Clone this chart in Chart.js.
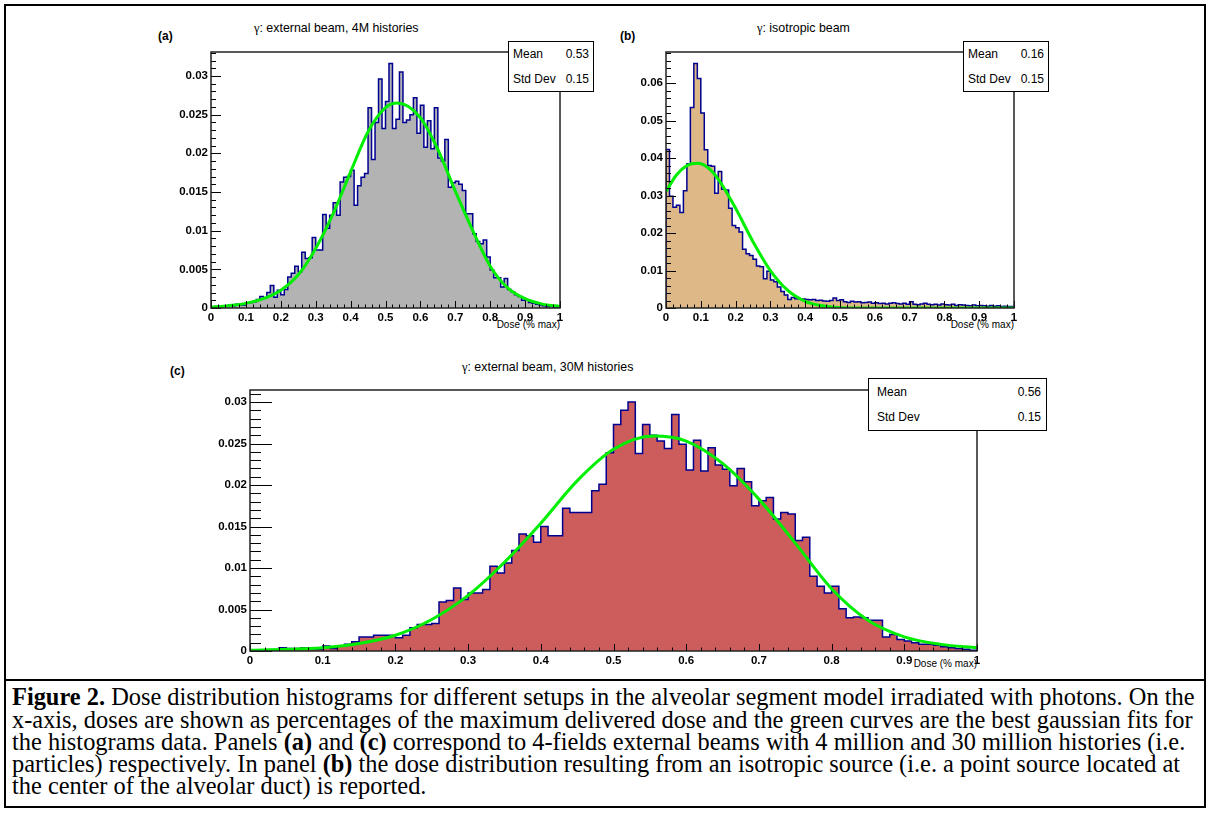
<!DOCTYPE html>
<html>
<head>
<meta charset="utf-8">
<script src="https://cdn.jsdelivr.net/npm/chart.js@4.4.1/dist/chart.umd.min.js"></script>
<style>
  body { margin: 0; background: #fff; width: 1210px; height: 822px; position: relative; overflow: hidden;
         font-family: "Liberation Sans", Arial, Helvetica, sans-serif; color: #000; }
  .abs { position: absolute; white-space: nowrap; }
  canvas { position: absolute; }
  .panel-tag { font-weight: bold; font-size: 12px; }
  .title { font-size: 12.4px; }
  .title .g { font-family: "Liberation Serif", "Times New Roman", serif; }
  .xlabel { font-size: 10px; transform: translateX(-100%); }
  .stats { position: absolute; border: 1px solid #000; background: #fff; box-sizing: border-box; font-size: 12px;
           padding: 0 4px 0 4px; display: flex; flex-direction: column; justify-content: space-around; z-index: 2; }
  .stats div { display: flex; justify-content: space-between; }
  .frame { position: absolute; left: 4px; top: 4px; width: 1198px; height: 800px; border: 2px solid #000; }
  .divider { position: absolute; left: 4px; width: 1202px; top: 679px; height: 2px; background: #000; }
  .caption { position: absolute; left: 12px; font-family: "Liberation Serif", "Times New Roman", serif;
             font-size: 24.4px; line-height: 22px; white-space: nowrap; }
</style>
</head>
<body>
<div class="frame"></div>
<div class="divider"></div>

<div class="abs panel-tag" style="left:158px;top:29px">(a)</div>
<div class="abs title" style="left:254px;top:21px"><span class="g">γ</span>: external beam, 4M histories</div>
<div class="stats" style="left:508px;top:41px;width:86px;height:51px">
  <div><span>Mean</span><span>0.53</span></div>
  <div><span>Std Dev</span><span>0.15</span></div>
</div>
<div class="abs xlabel" style="left:560px;top:319px">Dose (% max)</div>

<div class="abs panel-tag" style="left:620px;top:29px">(b)</div>
<div class="abs title" style="left:757px;top:21px"><span class="g">γ</span>: isotropic beam</div>
<div class="stats" style="left:963px;top:41px;width:86px;height:51px">
  <div><span>Mean</span><span>0.16</span></div>
  <div><span>Std Dev</span><span>0.15</span></div>
</div>
<div class="abs xlabel" style="left:1014px;top:319px">Dose (% max)</div>

<div class="abs panel-tag" style="left:170px;top:364px">(c)</div>
<div class="abs title" style="left:462px;top:360px"><span class="g">γ</span>: external beam, 30M histories</div>
<div class="stats" style="left:868px;top:378px;width:179px;height:53px;padding:0 5px 0 8px">
  <div><span>Mean</span><span>0.56</span></div>
  <div><span>Std Dev</span><span>0.15</span></div>
</div>
<div class="abs xlabel" style="left:977px;top:658px">Dose (% max)</div>

<div class="caption" style="top:686px"><b>Figure 2.</b> Dose distribution histograms for different setups in the alveolar segment model irradiated with photons. On the</div>
<div class="caption" style="top:708.5px">x-axis, doses are shown as percentages of the maximum delivered dose and the green curves are the best gaussian fits for</div>
<div class="caption" style="top:731px">the histograms data. Panels <b>(a)</b> and <b>(c)</b> correspond to 4-fields external beams with 4 million and 30 million histories (i.e.</div>
<div class="caption" style="top:753px">particles) respectively. In panel <b>(b)</b> the dose distribution resulting from an isotropic source (i.e. a point source located at</div>
<div class="caption" style="top:775px">the center of the alveolar duct) is reported.</div>

<script>
// bin width of all three dose histograms (100 bins over 0..1)
const BIN_WIDTH = 0.01;

// x axis labels, shared by the three panels
const doseTicks = [0, 0.1, 0.2, 0.3, 0.4, 0.5, 0.6, 0.7, 0.8, 0.9, 1];

// (a) external beam, 4M histories
const binsA = [
  0.0001, 0.0002, 0.0002, 0.0003, 0.0003, 0.0004, 0.0003, 0.0005, 0.0004, 0.0004,
  0.0006, 0.0007, 0.0008, 0.0011, 0.0015, 0.0013, 0.0020, 0.0029, 0.0014, 0.0023,
  0.0017, 0.0024, 0.0040, 0.0045, 0.0054, 0.0047, 0.0072, 0.0064, 0.0065, 0.0091,
  0.0075, 0.0075, 0.0121, 0.0103, 0.0120, 0.0136, 0.0120, 0.0163, 0.0169, 0.0170,
  0.0178, 0.0133, 0.0158, 0.0169, 0.0174, 0.0259, 0.0192, 0.0240, 0.0296, 0.0232,
  0.0267, 0.0316, 0.0232, 0.0244, 0.0305, 0.0240, 0.0243, 0.0250, 0.0272, 0.0226,
  0.0262, 0.0208, 0.0242, 0.0206, 0.0259, 0.0194, 0.0190, 0.0218, 0.0156, 0.0162,
  0.0164, 0.0160, 0.0152, 0.0122, 0.0122, 0.0096, 0.0086, 0.0083, 0.0088, 0.0066,
  0.0049, 0.0039, 0.0039, 0.0027, 0.0038, 0.0024, 0.0021, 0.0017, 0.0015, 0.0010,
  0.0010, 0.0007, 0.0006, 0.0005, 0.0004, 0.0003, 0.0002, 0.0002, 0.0001, 0.0001
];
const fitXA = [0, 0.05, 0.1, 0.15, 0.2, 0.25, 0.3, 0.35, 0.4, 0.45, 0.5, 0.535, 0.6, 0.65, 0.7, 0.75, 0.8, 0.85, 0.9, 0.95, 1];
const fitYA = [0.0001, 0.0003, 0.0006, 0.0012, 0.0023, 0.0043, 0.0077, 0.0122, 0.0176, 0.0228, 0.0259, 0.0265,
               0.0246, 0.0205, 0.0151, 0.0100, 0.0054, 0.0026, 0.0012, 0.0005, 0.0002];
const yTicksA = [0, 0.005, 0.01, 0.015, 0.02, 0.025, 0.03];

// (b) isotropic beam
const binsB = [
  0.0423, 0.0298, 0.0269, 0.0274, 0.0255, 0.0313, 0.0385, 0.0535, 0.0652, 0.0612,
  0.0520, 0.0422, 0.0380, 0.0378, 0.0306, 0.0364, 0.0317, 0.0315, 0.0266, 0.0220,
  0.0214, 0.0203, 0.0157, 0.0145, 0.0140, 0.0130, 0.0112, 0.0110, 0.0078, 0.0098,
  0.0075, 0.0070, 0.0056, 0.0044, 0.0035, 0.0023, 0.0028, 0.0025, 0.0024, 0.0024,
  0.0023, 0.0022, 0.0023, 0.0020, 0.0021, 0.0019, 0.0018, 0.0020, 0.0027, 0.0020,
  0.0022, 0.0017, 0.0015, 0.0018, 0.0016, 0.0017, 0.0014, 0.0015, 0.0016, 0.0013,
  0.0014, 0.0012, 0.0013, 0.0011, 0.0013, 0.0014, 0.0012, 0.0011, 0.0013, 0.0010,
  0.0017, 0.0010, 0.0009, 0.0011, 0.0013, 0.0010, 0.0009, 0.0010, 0.0008, 0.0011,
  0.0009, 0.0008, 0.0010, 0.0007, 0.0009, 0.0008, 0.0007, 0.0006, 0.0008, 0.0006,
  0.0007, 0.0006, 0.0005, 0.0007, 0.0005, 0.0006, 0.0004, 0.0005, 0.0004, 0.0004
];
const fitXB = [0, 0.03, 0.06, 0.09, 0.12, 0.15, 0.2, 0.25, 0.3, 0.35, 0.4, 0.45, 0.5, 0.6, 0.8, 1];
const fitYB = [0.0311, 0.0355, 0.0380, 0.0386, 0.0375, 0.0344, 0.0266, 0.0177, 0.0100, 0.0047, 0.0018, 0.0006,
               0.0001, 0, 0, 0];
const yTicksB = [0, 0.01, 0.02, 0.03, 0.04, 0.05, 0.06];

// (c) external beam, 30M histories
const binsC = [
  0, 0, 0, 0, 0.0004, 0.0003, 0.0003, 0.0004, 0.0002, 0.0002,
  0.0006, 0.0003, 0.0006, 0.0008, 0.0011, 0.0017, 0.0017, 0.0019, 0.0019, 0.0019,
  0.0016, 0.0019, 0.0028, 0.0032, 0.0032, 0.0033, 0.0059, 0.0061, 0.0076, 0.0062,
  0.0070, 0.0070, 0.0074, 0.0102, 0.0094, 0.0106, 0.0121, 0.0141, 0.0139, 0.0131,
  0.0150, 0.0139, 0.0139, 0.0172, 0.0167, 0.0167, 0.0167, 0.0193, 0.0201, 0.0239,
  0.0273, 0.0290, 0.0300, 0.0238, 0.0273, 0.0260, 0.0253, 0.0244, 0.0285, 0.0249,
  0.0218, 0.0254, 0.0217, 0.0245, 0.0224, 0.0219, 0.0199, 0.0220, 0.0204, 0.0175,
  0.0181, 0.0185, 0.0159, 0.0167, 0.0165, 0.0133, 0.0137, 0.0090, 0.0078, 0.0070,
  0.0078, 0.0051, 0.0040, 0.0041, 0.0040, 0.0037, 0.0037, 0.0017, 0.0020, 0.0014,
  0.0012, 0.0010, 0.0008, 0.0008, 0.0007, 0.0005, 0.0004, 0.0003, 0.0002, 0.0001
];
const fitXC = [0, 0.05, 0.1, 0.15, 0.2, 0.25, 0.3, 0.35, 0.4, 0.45, 0.5, 0.555, 0.6, 0.65, 0.7, 0.75, 0.8, 0.85, 0.9, 0.95, 1];
const fitYC = [0.0001, 0.0002, 0.0004, 0.0009, 0.0019, 0.0038, 0.0067, 0.0107, 0.0154, 0.0205, 0.0243, 0.0259,
               0.0253, 0.0226, 0.0183, 0.0130, 0.0075, 0.0037, 0.0017, 0.0008, 0.0004];
const yTicksC = [0, 0.005, 0.01, 0.015, 0.02, 0.025, 0.03];

// ROOT-like frame: ticks drawn inward from the left and bottom axes
const rootFrame = {
  id: 'rootFrame',
  afterDatasetsDraw(chart, args, o) {
    const { ctx, chartArea: a, scales: { x, y } } = chart;
    ctx.save();
    ctx.strokeStyle = '#000';
    ctx.lineWidth = 1;
    ctx.beginPath();
    const ny = Math.floor(y.max / o.yMinor + 1e-6);
    for (let k = 0; k <= ny; k++) {
      const py = Math.round(y.getPixelForValue(k * o.yMinor)) + 0.5;
      const len = k % o.ySub === 0 ? o.yTick : o.yTick / 2;
      ctx.moveTo(a.left, py);
      ctx.lineTo(a.left + len, py);
    }
    const nx = Math.round((x.max - x.min) / o.xMinor);
    for (let k = 0; k <= nx; k++) {
      const px = Math.round(x.getPixelForValue(x.min + k * o.xMinor)) + 0.5;
      const len = k % o.xSub === 0 ? o.xTick : o.xTick / 2;
      ctx.moveTo(px, a.bottom);
      ctx.lineTo(px, a.bottom - len);
    }
    ctx.stroke();
    ctx.strokeStyle = '#222';
    ctx.lineWidth = 1.5;
    ctx.strokeRect(a.left, a.top, a.right - a.left, a.bottom - a.top);
    ctx.restore();
  }
};

function histPoints(bins) {
  const pts = [{ x: 0, y: 0 }];
  bins.forEach((v, i) => pts.push({ x: i * BIN_WIDTH, y: v }));
  const end = bins.length * BIN_WIDTH;
  pts.push({ x: end, y: bins[bins.length - 1] });
  pts.push({ x: end, y: 0 });
  return pts;
}

const tickFont = { family: '"Liberation Sans", Arial, Helvetica, sans-serif', size: 11.5, weight: 'bold' };
const fmt = v => String(+(+v).toFixed(4));

// frame = plot box in page pixels
function makePanel(frame, p) {
  const LEFT = 70, TOP = 12, RIGHT = 20, BOTTOM = 30;
  const canvas = document.createElement('canvas');
  canvas.width = frame.r - frame.l + LEFT + RIGHT;
  canvas.height = frame.b - frame.t + TOP + BOTTOM;
  canvas.style.left = (frame.l - LEFT) + 'px';
  canvas.style.top = (frame.t - TOP) + 'px';
  document.body.appendChild(canvas);

  return new Chart(canvas.getContext('2d'), {
    type: 'line',
    data: {
      datasets: [
        {
          label: 'fit',
          data: p.fitX.map((x, i) => ({ x, y: p.fitY[i] })),
          borderColor: '#00ee00',
          borderWidth: 3,
          pointRadius: 0,
          fill: false,
          cubicInterpolationMode: 'monotone'
        },
        {
          label: 'dose',
          data: histPoints(p.bins),
          stepped: 'before',
          borderColor: '#000090',
          borderWidth: 1.5,
          backgroundColor: p.color,
          fill: 'origin',
          pointRadius: 0
        }
      ]
    },
    options: {
      responsive: false,
      animation: false,
      events: [],
      layout: { padding: { left: 0, top: TOP, right: RIGHT, bottom: 0 } },
      plugins: {
        legend: { display: false },
        tooltip: { enabled: false },
        rootFrame: { yMinor: p.yMinor, ySub: p.ySub, yTick: p.yTick, xMinor: 0.02, xSub: 5, xTick: 7 }
      },
      scales: {
        x: {
          type: 'linear', min: 0, max: 1,
          grid: { display: false, drawTicks: false },
          border: { display: false },
          afterBuildTicks: s => { s.ticks = doseTicks.map(v => ({ value: v })); },
          afterFit: s => { s.height = BOTTOM; s.paddingLeft = 0; s.paddingRight = 0; },
          ticks: { font: tickFont, color: '#000', padding: 3, maxRotation: 0, autoSkip: false, callback: fmt }
        },
        y: {
          type: 'linear', min: 0, max: p.ymax,
          grid: { display: false, drawTicks: false },
          border: { display: false },
          afterBuildTicks: s => { s.ticks = p.yTicks.map(v => ({ value: v })); },
          afterFit: s => { s.width = LEFT; s.paddingTop = 0; s.paddingBottom = 0; },
          ticks: { font: tickFont, color: '#000', padding: 3, autoSkip: false, callback: fmt }
        }
      }
    },
    plugins: [rootFrame]
  });
}

makePanel({ l: 211, t: 52, r: 560, b: 308 }, {
  bins: binsA, fitX: fitXA, fitY: fitYA, yTicks: yTicksA, ymax: 0.0331,
  color: '#b3b3b3', yMinor: 0.001, ySub: 5, yTick: 10
});
makePanel({ l: 666, t: 52, r: 1014, b: 308 }, {
  bins: binsB, fitX: fitXB, fitY: fitYB, yTicks: yTicksB, ymax: 0.0683,
  color: '#deb887', yMinor: 0.002, ySub: 5, yTick: 10
});
makePanel({ l: 250, t: 390, r: 977, b: 651 }, {
  bins: binsC, fitX: fitXC, fitY: fitYC, yTicks: yTicksC, ymax: 0.03145,
  color: '#cd5c5c', yMinor: 0.001, ySub: 5, yTick: 22
});
</script>
</body>
</html>
